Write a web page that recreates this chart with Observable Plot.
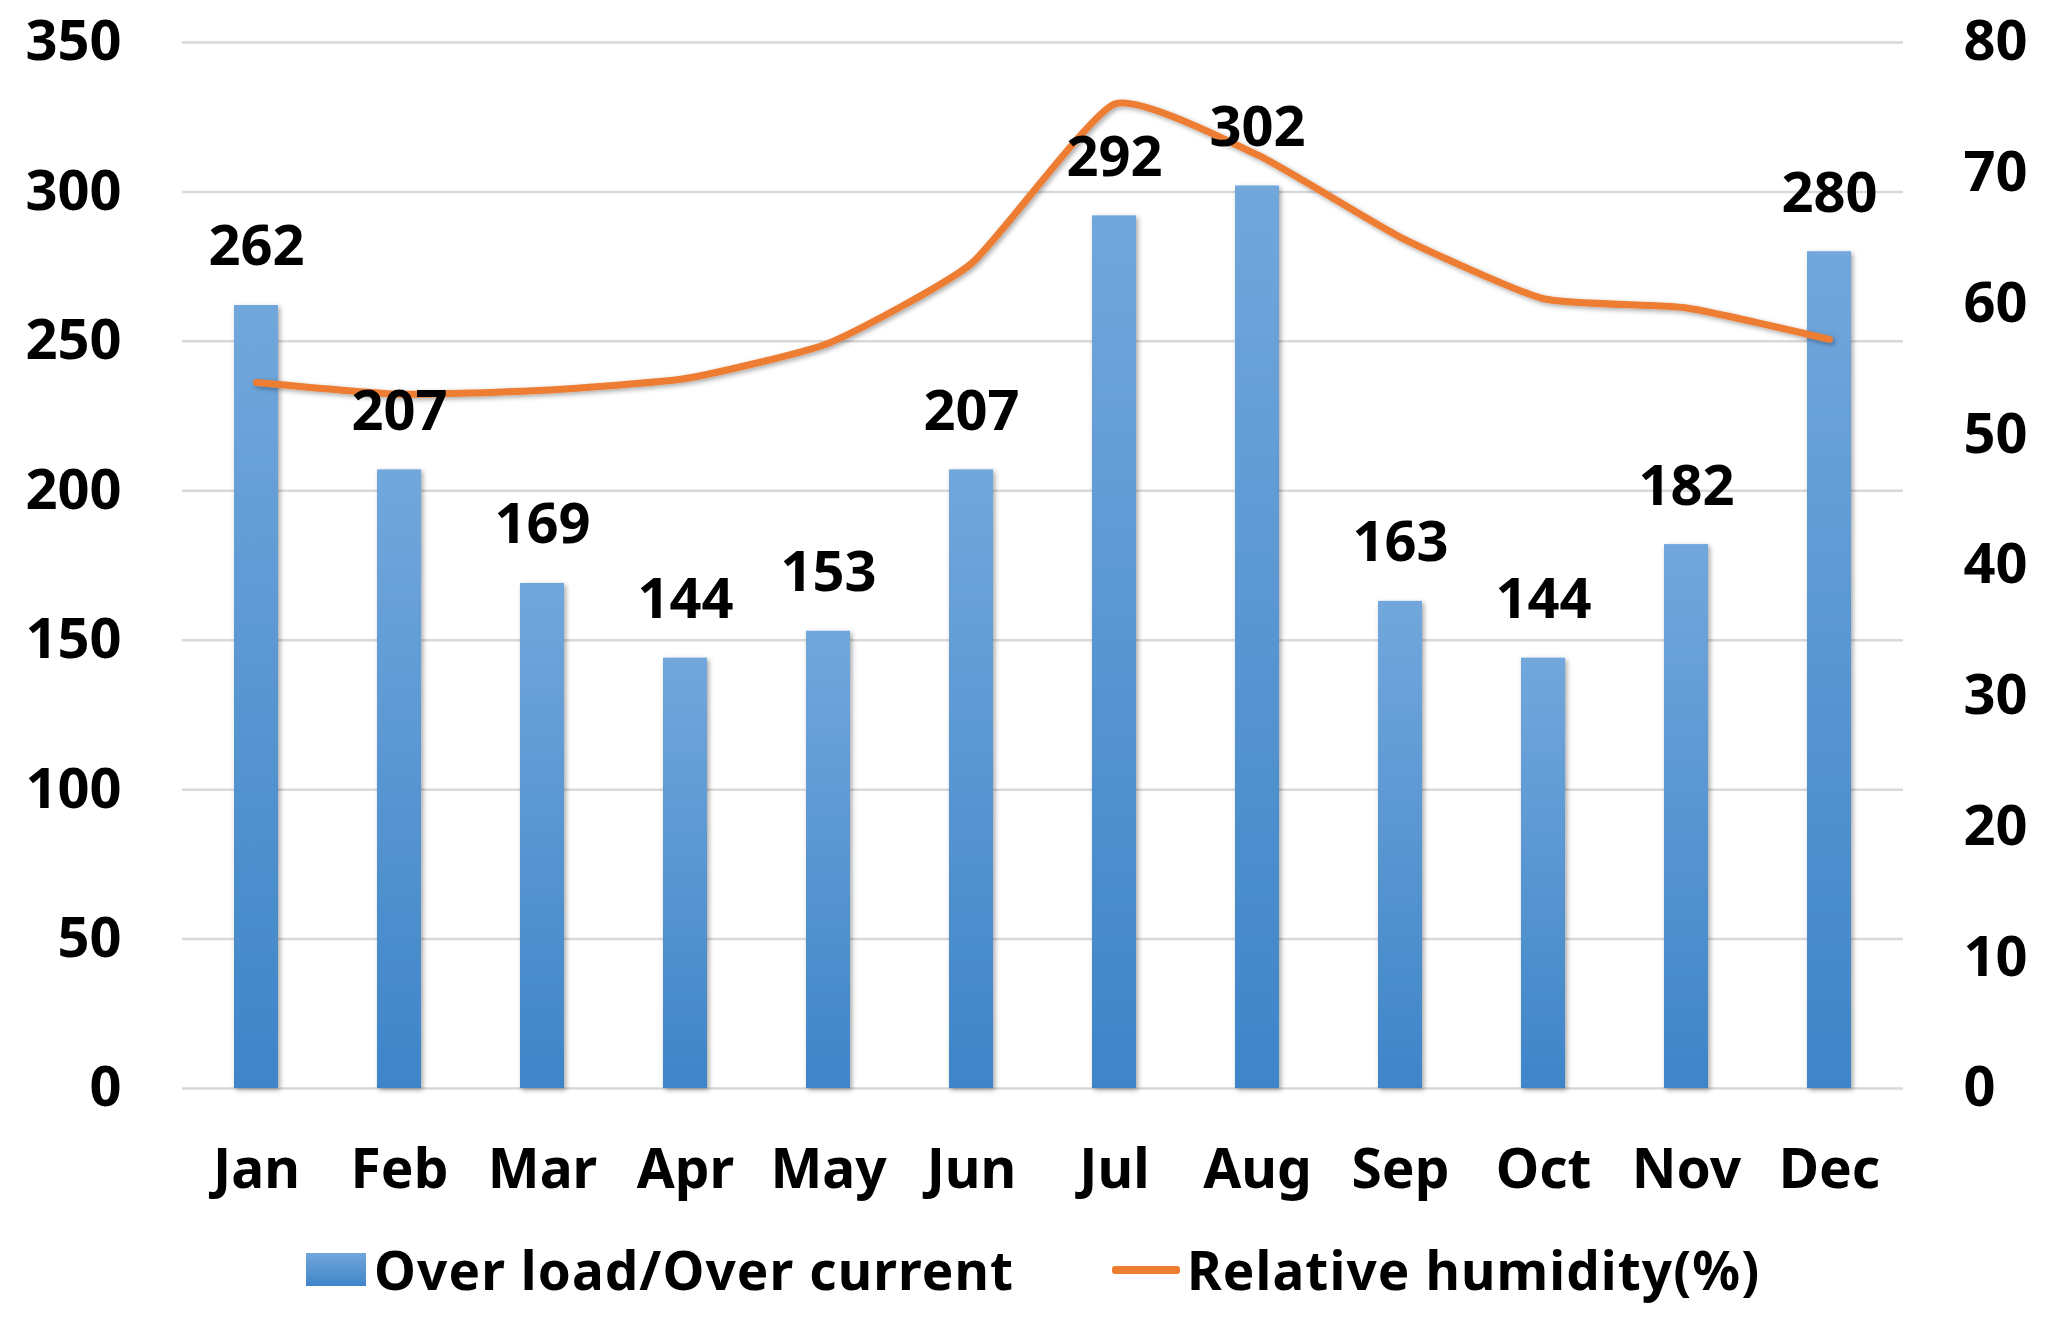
<!DOCTYPE html>
<html>
<head>
<meta charset="utf-8">
<script src="https://cdn.jsdelivr.net/npm/d3@7"></script>
<script src="https://cdn.jsdelivr.net/npm/@observablehq/plot@0.6"></script>
<style>
  html, body { margin: 0; padding: 0; background: #fff; }
  #wrap { position: relative; width: 2055px; height: 1333px; overflow: hidden; }
  svg text { font-weight: bold; }
  #legend { position: absolute; left: 0; top: 1213px; width: 2055px; height: 113px;
    font-family: "Noto Sans", sans-serif; font-weight: bold; font-size: 53px; letter-spacing: 1.1px; color: #000; }
  .item { position: absolute; top: 0; height: 113px; display: flex; align-items: center; }
  .sw1 { width: 60px; height: 33px; background: linear-gradient(#72a7dc, #3e85c8); margin-right: 8px; }
  .sw2 { width: 68px; height: 8px; background: #ED7D31; border-radius: 3px; margin-right: 7px; }
</style>
</head>
<body>
<div id="wrap"><div id="chart"></div>
<div id="legend">
  <div class="item" style="left:306px"><div class="sw1"></div><span>Over load/Over current</span></div>
  <div class="item" style="left:1112px"><div class="sw2"></div><span>Relative humidity(%)</span></div>
</div>
</div>
<script>
const months = ["Jan","Feb","Mar","Apr","May","Jun","Jul","Aug","Sep","Oct","Nov","Dec"];
const overload = [262,207,169,144,153,207,292,302,163,144,182,280];
const humidity = [54.0,53.1,53.4,54.3,57.0,63.1,75.3,71.4,65.1,60.4,59.7,57.3];
const leftTicks = [0,50,100,150,200,250,300,350];
const rightTicks = [0,10,20,30,40,50,60,70,80];
const leftMax = 350, rightMax = 80;

const data = months.map((m, i) => ({month: m, value: overload[i], hum: humidity[i]}));
const toLeft = h => h * leftMax / rightMax;

const chart = Plot.plot({
  width: 2055,
  height: 1220,
  marginLeft: 182,
  marginRight: 152,
  marginTop: 42,
  marginBottom: 132,
  style: {fontFamily: "'Noto Sans', sans-serif", fontSize: "55px", color: "#000", background: "#fff"},
  x: {domain: months, paddingInner: 0.69, paddingOuter: 0.345, label: null},
  y: {domain: [0, leftMax], label: null},
  marks: [
    Plot.gridY(leftTicks, {stroke: "#d9d9d9", strokeOpacity: 1, strokeWidth: 2.5}),
    Plot.barY(data, {x: "month", y: "value", fill: "url(#barGrad)"}),
    Plot.line(data, {x: "month", y: d => toLeft(d.hum), stroke: "#ED7D31", strokeWidth: 7, curve: "cardinal", tension: 0.5}),
    Plot.text(data, {x: "month", y: "value", text: d => String(d.value), dy: -58, fontSize: 56, fill: "#000"}),
    Plot.axisY(leftTicks, {anchor: "left", tickSize: 0, tickPadding: 61, fontSize: 56, label: null}),
    Plot.axisY(rightTicks.map(toLeft), {anchor: "right", tickSize: 0, tickPadding: 60, fontSize: 56, label: null,
      tickFormat: v => String(Math.round(v * rightMax / leftMax))}),
    Plot.axisX({tickSize: 0, tickPadding: 60, fontSize: 55, label: null})
  ]
});

document.getElementById("chart").appendChild(chart);
const svg = d3.select(chart);
const defs = svg.insert("defs", ":first-child");
const g = defs.append("linearGradient").attr("id", "barGrad").attr("x1", 0).attr("y1", 0).attr("x2", 0).attr("y2", 1);
g.append("stop").attr("offset", "0%").attr("stop-color", "#72a7dc");
g.append("stop").attr("offset", "100%").attr("stop-color", "#3e85c8");
const f = defs.append("filter").attr("id", "shadow").attr("x", "-20%").attr("y", "-20%").attr("width", "140%").attr("height", "140%");
f.append("feDropShadow").attr("dx", 2).attr("dy", 2).attr("stdDeviation", 2.5).attr("flood-color", "#000").attr("flood-opacity", 0.35);
svg.selectAll("g[aria-label='bar'], g[aria-label='line']").attr("filter", "url(#shadow)");
</script>
</body>
</html>
